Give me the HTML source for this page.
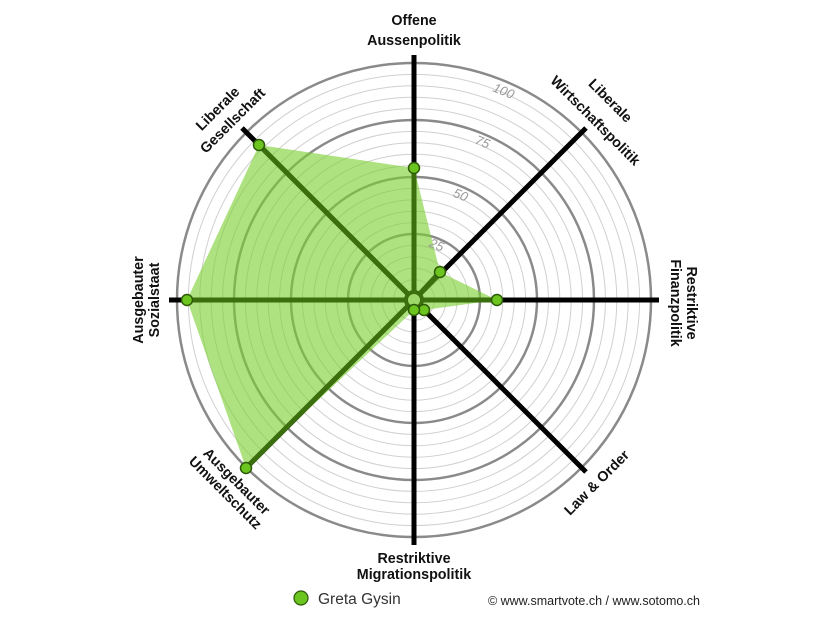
<!DOCTYPE html>
<html><head><meta charset="utf-8"><style>
html,body{margin:0;padding:0;background:#fff;}
svg{display:block;font-family:"Liberation Sans",Arial,sans-serif;}
.l{font-size:14.3px;font-weight:bold;fill:#111;text-anchor:middle;}
</style></head><body>
<svg width="828" height="619" viewBox="0 0 828 619">
<g fill="none" transform="translate(414,300)">
<g stroke="#d0d0d0" stroke-width="1">
<circle r="20.4"/><circle r="31.8"/><circle r="43.2"/><circle r="54.6"/>
<circle r="77.4"/><circle r="88.8"/><circle r="100.2"/><circle r="111.6"/>
<circle r="134.4"/><circle r="145.8"/><circle r="157.2"/><circle r="168.6"/>
<circle r="191.4"/><circle r="202.8"/><circle r="214.2"/><circle r="225.6"/>
</g>
<g stroke="#8a8a8a" stroke-width="2.5">
<circle r="66"/><circle r="123"/><circle r="180"/><circle r="237"/>
</g>
<g stroke="#000" stroke-width="5">
<line x1="0" y1="0" x2="0" y2="-245"/><line x1="0" y1="0" x2="0" y2="245"/>
<line x1="0" y1="0" x2="245" y2="0"/><line x1="0" y1="0" x2="-245" y2="0"/>
<line x1="0" y1="0" x2="172" y2="-172"/><line x1="0" y1="0" x2="172" y2="172"/>
<line x1="0" y1="0" x2="-172" y2="-172"/><line x1="0" y1="0" x2="-172" y2="172"/>
</g>
<polygon points="0,-132 26,-28 83,0 10,10 0,10 -168,168 -227,0 -155,-155" fill="rgba(125,208,50,0.62)" stroke="none"/>
<g stroke="#3b6e0c" stroke-width="5">
<line x1="0" y1="0" x2="0" y2="-132"/><line x1="0" y1="0" x2="26" y2="-28"/>
<line x1="0" y1="0" x2="83" y2="0"/><line x1="0" y1="0" x2="10" y2="10"/>
<line x1="0" y1="0" x2="0" y2="10"/><line x1="0" y1="0" x2="-168" y2="168"/>
<line x1="0" y1="0" x2="-227" y2="0"/><line x1="0" y1="0" x2="-155" y2="-155"/>
</g>
<circle r="8" stroke="#3b6e0c" stroke-width="4" fill="#9fd86a"/>
<g fill="#6cc51f" stroke="#2d5a08" stroke-width="1.5">
<circle cx="0" cy="-132" r="5.5"/><circle cx="26" cy="-28" r="5.5"/>
<circle cx="83" cy="0" r="5.5"/><circle cx="10" cy="10" r="5.5"/>
<circle cx="0" cy="10" r="5.5"/><circle cx="-168" cy="168" r="5.5"/>
<circle cx="-227" cy="0" r="5.5"/><circle cx="-155" cy="-155" r="5.5"/>
</g>
<g fill="#999" font-size="13" font-style="italic" text-anchor="middle">
<text transform="translate(21,-51) rotate(22)">25</text>
<text transform="translate(45,-101) rotate(22)">50</text>
<text transform="translate(67,-154) rotate(22)">75</text>
<text transform="translate(88,-205) rotate(22)">100</text>
</g>
</g>
<text class="l" x="414" y="25">Offene</text>
<text class="l" x="414" y="45">Aussenpolitik</text>
<text class="l" x="414" y="563">Restriktive</text>
<text class="l" x="414" y="579">Migrationspolitik</text>
<g transform="translate(683,303) rotate(90)"><text class="l" x="0" y="-4">Restriktive</text><text class="l" x="0" y="12">Finanzpolitik</text></g>
<g transform="translate(143,300) rotate(-90)"><text class="l" x="0" y="0">Ausgebauter</text><text class="l" x="0" y="16">Sozialstaat</text></g>
<text class="l" transform="translate(607,104) rotate(45)">Liberale</text>
<text class="l" transform="translate(592,124) rotate(45)">Wirtschaftspolitik</text>
<text class="l" transform="translate(221,112) rotate(-45)">Liberale</text>
<text class="l" transform="translate(236,124) rotate(-45)">Gesellschaft</text>
<g transform="translate(229,489) rotate(45)"><text class="l" x="0" y="-6">Ausgebauter</text><text class="l" x="0" y="10">Umweltschutz</text></g>
<g transform="translate(600,486) rotate(-45)"><text class="l" x="0" y="0">Law &amp; Order</text></g>
<circle cx="301" cy="598" r="7" fill="#6cc51f" stroke="#2d5a08" stroke-width="1.2"/>
<text x="318" y="604" font-size="15.5" fill="#333">Greta Gysin</text>
<text x="700" y="605" font-size="12.5" fill="#222" text-anchor="end">© www.smartvote.ch / www.sotomo.ch</text>
</svg>
</body></html>
